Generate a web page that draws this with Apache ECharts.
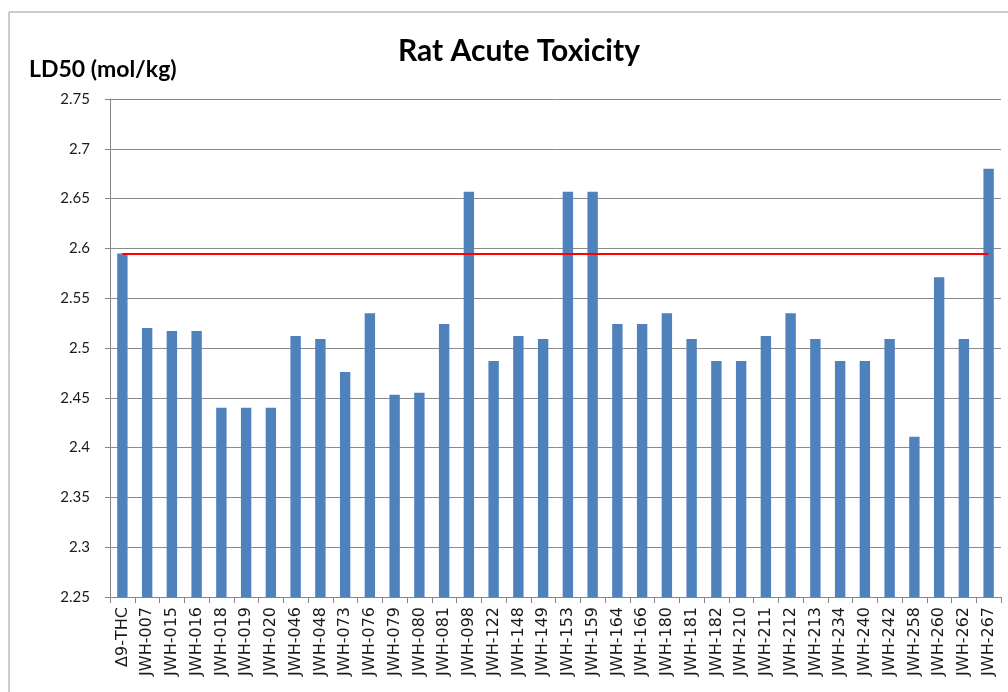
<!DOCTYPE html>
<html>
<head>
<meta charset="utf-8">
<script src="https://cdn.jsdelivr.net/npm/echarts@6/dist/echarts.min.js"></script>
<style>
  html, body { margin: 0; padding: 0; background: #fff; }
  #chart { width: 1008px; height: 692px; }
</style>
</head>
<body>
<div id="chart"></div>
<script>
const compuestos = ['Δ9-THC','JWH-007','JWH-015','JWH-016','JWH-018','JWH-019','JWH-020','JWH-046','JWH-048','JWH-073','JWH-076','JWH-079','JWH-080','JWH-081','JWH-098','JWH-122','JWH-148','JWH-149','JWH-153','JWH-159','JWH-164','JWH-166','JWH-180','JWH-181','JWH-182','JWH-210','JWH-211','JWH-212','JWH-213','JWH-234','JWH-240','JWH-242','JWH-258','JWH-260','JWH-262','JWH-267'];
const ld50 = [2.595, 2.520, 2.517, 2.517, 2.440, 2.440, 2.440, 2.512, 2.509, 2.476, 2.535, 2.453, 2.455, 2.524, 2.657, 2.487, 2.512, 2.509, 2.657, 2.657, 2.524, 2.524, 2.535, 2.509, 2.487, 2.487, 2.512, 2.535, 2.509, 2.487, 2.487, 2.509, 2.411, 2.571, 2.509, 2.680];
const referencia = 2.595; // linea roja (Δ9-THC)
const yMin = 2.25, yMax = 2.75, yPaso = 0.05;

const chart = echarts.init(document.getElementById('chart'));

const option = {
  animation: false,
  backgroundColor: '#fff',
  textStyle: { fontFamily: 'Lato' },
  title: [
    {
      text: 'Rat Acute Toxicity',
      left: 514,
      top: 31,
      textAlign: 'center',
      textStyle: { fontFamily: 'Lato', fontWeight: 'bold', fontSize: 30, color: '#000' }
    },
    {
      text: 'LD50 (mol/kg)',
      left: 24,
      top: 53,
      textStyle: { fontFamily: 'Lato', fontWeight: 'bold', fontSize: 23, color: '#000' }
    }
  ],
  graphic: [
    {
      type: 'rect',
      shape: { x: 9, y: 12, width: 1200, height: 900 },
      style: { fill: 'none', stroke: '#9a9a9a', lineWidth: 1 },
      silent: true
    }
  ],
  grid: { left: 110, right: 7, top: 99, bottom: 95 },
  xAxis: {
    type: 'category',
    data: compuestos,
    axisLine: { show: true, lineStyle: { color: '#868686' } },
    axisTick: { show: true, length: 6, alignWithLabel: false, lineStyle: { color: '#868686' } },
    axisLabel: {
      interval: 0,
      rotate: 90,
      margin: 10,
      fontFamily: 'DejaVu Sans',
      fontSize: 16,
      color: '#1a1a1a'
    }
  },
  yAxis: {
    type: 'value',
    min: yMin,
    max: yMax,
    interval: yPaso,
    axisLine: { show: true, lineStyle: { color: '#868686' } },
    axisTick: { show: true, length: 5, lineStyle: { color: '#868686' } },
    axisLabel: { fontFamily: 'Lato', fontSize: 15, color: '#1a1a1a', margin: 20 },
    splitLine: { show: true, lineStyle: { color: '#8a8a8a', width: 1 } }
  },
  series: [
    {
      name: 'LD50',
      type: 'bar',
      data: ld50,
      barCategoryGap: '58%',
      itemStyle: { color: '#4f81bd' },
      markLine: {
        silent: true,
        symbol: 'none',
        label: { show: false },
        lineStyle: { color: '#ff0000', width: 2, type: 'solid' },
        data: [[
          { coord: [0, referencia] },
          { coord: [compuestos.length - 1, referencia] }
        ]],
        z: 5
      }
    }
  ]
};

chart.setOption(option);
</script>
</body>
</html>
